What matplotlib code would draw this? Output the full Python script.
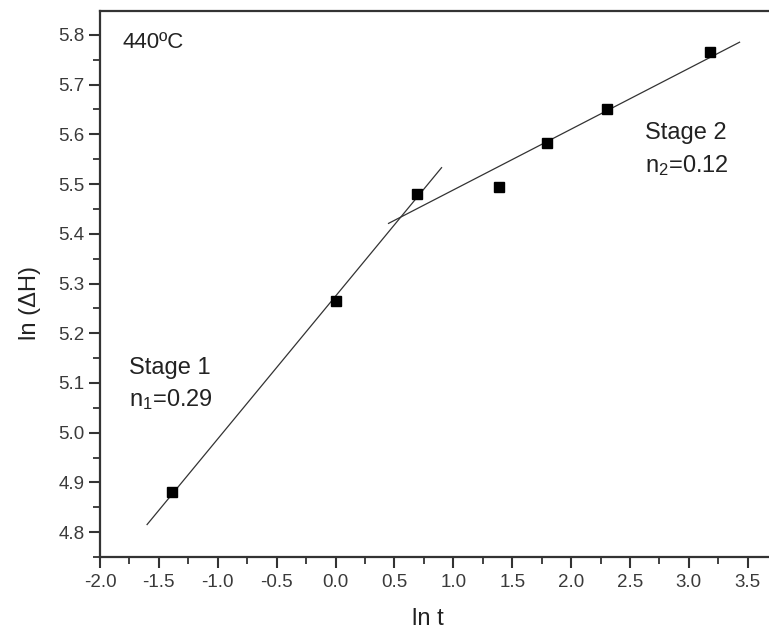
import numpy as np
import matplotlib
matplotlib.use("Agg")
import matplotlib.pyplot as plt
from matplotlib.ticker import MultipleLocator, FormatStrFormatter

plt.rcParams['font.family'] = ['Liberation Sans', 'DejaVu Sans']
plt.rcParams['axes.unicode_minus'] = False

# ln(t) and ln(dH) for t = 0.25, 1, 2, 4, 6, 10, 24
ln_t = [-1.386, 0.0, 0.693, 1.386, 1.792, 2.303, 3.178]
ln_dH = [4.88, 5.265, 5.48, 5.495, 5.583, 5.65, 5.765]

# which points go into each stage fit, and how far each fit line is drawn
stage1_idx = [0, 1, 2]
stage2_idx = [2, 3, 4, 5, 6]
stage1_span = [-1.6, 0.9]
stage2_span = [0.45, 3.43]

ink = '#222222'
axis_col = '#333333'


def fit_line(idx, span):
    x = np.array(ln_t)[idx]
    y = np.array(ln_dH)[idx]
    k, b = np.polyfit(x, y, 1)
    xs = np.array(span)
    return xs, k * xs + b


fig = plt.figure(figsize=(7.69, 6.33), dpi=100)
ax = fig.add_axes([0.130, 0.120, 0.870, 0.8626])

for idx, span in [(stage1_idx, stage1_span), (stage2_idx, stage2_span)]:
    xs, ys = fit_line(idx, span)
    ax.plot(xs, ys, color='#333333', lw=0.9)

ax.plot(ln_t, ln_dH, 's', color='black', ms=7.5, zorder=3)

ax.set_xlim(-2.0, 3.68)
ax.set_ylim(4.75, 5.848)

ax.xaxis.set_major_locator(MultipleLocator(0.5))
ax.xaxis.set_minor_locator(MultipleLocator(0.25))
ax.yaxis.set_major_locator(MultipleLocator(0.1))
ax.yaxis.set_minor_locator(MultipleLocator(0.05))
ax.xaxis.set_major_formatter(FormatStrFormatter('%.1f'))
ax.yaxis.set_major_formatter(FormatStrFormatter('%.1f'))

ax.spines['right'].set_visible(False)
for s in ['left', 'bottom', 'top']:
    ax.spines[s].set_linewidth(1.6)
    ax.spines[s].set_color(axis_col)

ax.tick_params(which='major', direction='out', length=8, width=1.5,
               color=axis_col, labelsize=13.5, labelcolor='#3a3a3a', pad=4)
ax.tick_params(which='minor', direction='out', length=5, width=1.3,
               color=axis_col)
ax.tick_params(axis='y', which='major', pad=3)

ax.set_xlabel('ln t', fontsize=17, color=ink)
ax.set_ylabel('ln (ΔH)', fontsize=17, color=ink)
ax.xaxis.set_label_coords(0.49, -0.094)
ax.yaxis.set_label_coords(-0.088, 0.465)

ax.text(-1.81, 5.784, '440ºC', fontsize=16, color=ink, va='center', ha='left')
ax.text(-1.754, 5.131, 'Stage 1', fontsize=17, color=ink, va='center', ha='left')
ax.text(-1.754, 5.066, r'n$\mathregular{_1}$=0.29', fontsize=17, color=ink,
        va='center', ha='left')
ax.text(2.627, 5.602, 'Stage 2', fontsize=17, color=ink, va='center', ha='left')
ax.text(2.627, 5.538, r'n$\mathregular{_2}$=0.12', fontsize=17, color=ink,
        va='center', ha='left')

fig.savefig('out.png', dpi=100)
